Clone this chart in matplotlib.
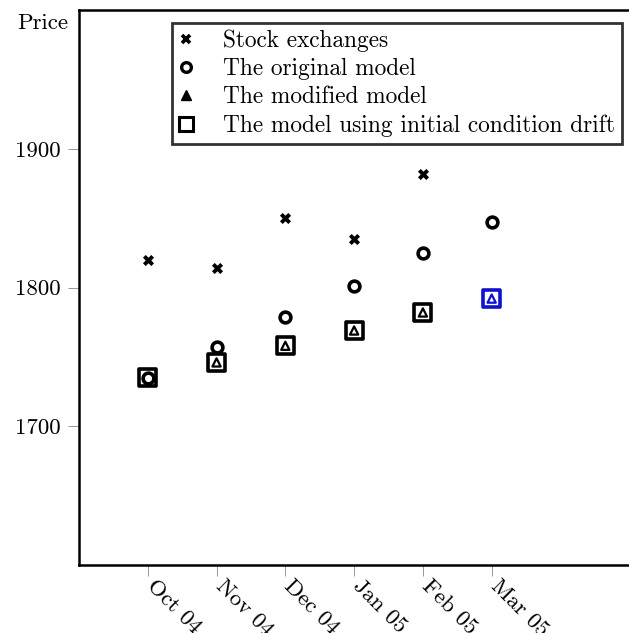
import matplotlib
matplotlib.use("Agg")
import matplotlib.pyplot as plt
import matplotlib.transforms as mtransforms
import numpy as np

# ------------------------------------------------------------
# Monthly prices: market vs. model forecasts
# ------------------------------------------------------------
months = ["Oct 04", "Nov 04", "Dec 04", "Jan 05", "Feb 05", "Mar 05"]
stock = [1820, 1814, 1850, 1835, 1882]
original = [1735, 1757, 1779, 1801, 1825, 1847]
modified = [1735, 1746, 1758, 1769, 1782, 1792]
drift = [1735, 1746, 1758, 1769, 1782, 1792]
y_ticks = [1700, 1800, 1900]

plt.rcParams["font.family"] = ["cmr10", "DejaVu Serif"]
plt.rcParams["axes.formatter.use_mathtext"] = True
plt.rcParams["mathtext.fontset"] = "cm"

FS = 16.5
W, H = 629, 633
fig = plt.figure(figsize=(W / 100, H / 100), dpi=100)
left, top, bottom = 79, 10, 565
right = 698
ax = fig.add_axes([left / W, 1 - bottom / H, (right - left) / W, (bottom - top) / H])

x = np.arange(1, len(months) + 1)
blue = "#1010d0"
sq_colors = ["black"] * (len(months) - 1) + [blue]

ax.scatter(x, drift, marker="s", s=150, facecolors="white",
           edgecolors=sq_colors, linewidths=2.6, zorder=3)
ax.scatter(x, modified, marker="^", s=35, facecolors="white",
           edgecolors=sq_colors, linewidths=1.6, zorder=4)
ax.scatter(x, original, marker="o", s=60, facecolors="white",
           edgecolors="black", linewidths=2.6, zorder=5)
ax.scatter(x[:len(stock)], stock, marker="x", s=36, color="black",
           linewidths=2.8, zorder=6)

ax.set_xlim(0, 9)
ax.set_ylim(1600, 2000)
ax.set_xticks(x)
ax.set_xticklabels(months, rotation=-45, ha="left", va="top",
                   rotation_mode="anchor", fontsize=FS)
ax.set_yticks(y_ticks)
ax.set_yticklabels([str(v) for v in y_ticks], fontsize=FS)
ax.tick_params(direction="out", length=8, width=0.6, color="#888888", pad=5)
ax.tick_params(axis="x", pad=0)

# nudge the slanted month labels to the right of their ticks
shift = mtransforms.ScaledTranslation(9 / 100, 0, fig.dpi_scale_trans)
for lbl in ax.get_xticklabels():
    lbl.set_transform(lbl.get_transform() + shift)

for side in ["top", "bottom", "left"]:
    ax.spines[side].set_linewidth(1.8)
ax.spines["right"].set_visible(False)

fig.text(68 / W, 1 - 23 / H, "Price", ha="right", va="center", fontsize=FS)

# legend with proxy handles
handles = [
    plt.Line2D([], [], ls="none", marker="x", ms=6, mew=2.6, color="black"),
    plt.Line2D([], [], ls="none", marker="o", ms=7, mew=2.4, mfc="white", mec="black"),
    plt.Line2D([], [], ls="none", marker="^", ms=7, color="black"),
    plt.Line2D([], [], ls="none", marker="s", ms=10, mew=2.2, mfc="white", mec="black"),
]
labels = ["Stock exchanges", "The original model", "The modified model",
          "The model using initial condition drift"]
leg = fig.legend(handles, labels, loc="upper left",
                 bbox_to_anchor=(172 / W, 1 - 23 / H), fontsize=16.8,
                 frameon=True, fancybox=False, handlelength=0.6,
                 handletextpad=1.3, labelspacing=0.25, borderpad=0.3,
                 borderaxespad=0)
leg.get_frame().set_edgecolor("black")
leg.get_frame().set_linewidth(2.0)

fig.savefig("out.png", dpi=100, facecolor="white")
